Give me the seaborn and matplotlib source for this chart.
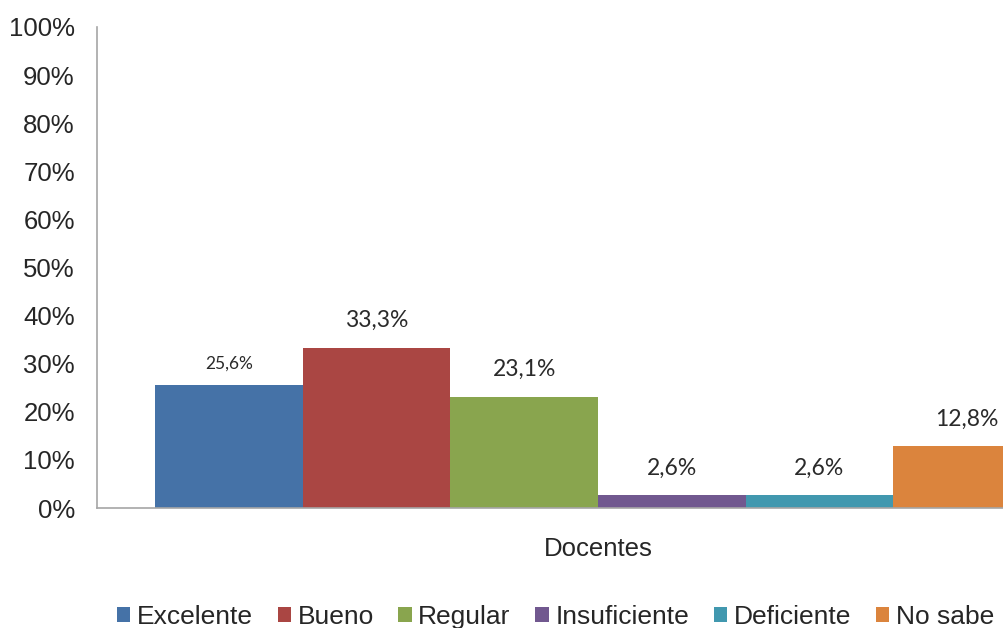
import matplotlib
matplotlib.use("Agg")
import matplotlib.pyplot as plt
import pandas as pd
import seaborn as sns

sns.set_style("white")
plt.rcParams["font.family"] = ["Liberation Sans", "DejaVu Sans"]

grupo = "Docentes"
categorias = ["Excelente", "Bueno", "Regular", "Insuficiente", "Deficiente", "No sabe"]
valores = [25.6, 33.3, 23.1, 2.6, 2.6, 12.8]
colores = ["#4572A7", "#AA4643", "#89A54E", "#71588F", "#4198AF", "#DB843D"]
yticks = list(range(0, 101, 10))

df = pd.DataFrame({"grupo": grupo, "categoria": categorias, "valor": valores})

fig = plt.figure(figsize=(10.04, 6.28), dpi=100)
ax = fig.add_axes([97 / 1004, 120 / 628, 1002 / 1004, 481 / 628])

sns.barplot(data=df, x="grupo", y="valor", hue="categoria", hue_order=categorias,
            palette=colores, saturation=1, width=0.884, gap=0, linewidth=0,
            errorbar=None, ax=ax)

# etiquetas de valor encima de cada barra
for i, cont in enumerate(ax.containers):
    for bar in cont:
        x = bar.get_x() + bar.get_width() / 2
        y = bar.get_height()
        txt = f"{y:.1f}".replace(".", ",") + "%"
        size = 12.5 if i == 0 else 16.5
        off = 15 if i == 0 else 19.5
        ax.annotate(txt, (x, y), xytext=(0, off), textcoords="offset points",
                    ha="center", va="center", fontsize=size, color="#2a2a2a",
                    family=["Lato", "DejaVu Sans"])

ax.set_ylim(0, 100)
ax.set_yticks(yticks)
ax.set_yticklabels([f"{t}%" for t in yticks])
ax.set_xlabel("")
ax.set_ylabel("")
ax.tick_params(axis="y", length=0, pad=16, labelsize=18.5)
ax.tick_params(axis="x", length=0, pad=21, labelsize=18.5)

for s in ["top", "right"]:
    ax.spines[s].set_visible(False)
for s in ["left", "bottom"]:
    ax.spines[s].set_color("#A6A6A6")
    ax.spines[s].set_linewidth(1.2)

handles, labels = ax.get_legend_handles_labels()
ax.get_legend().remove()
fig.legend(handles, labels, loc="center left", bbox_to_anchor=(117 / 1004, 11 / 628),
           ncol=6, frameon=False, fontsize=19, handlelength=0.5, handleheight=0.5,
           handletextpad=0.25, columnspacing=0.94, borderpad=0, borderaxespad=0)

fig.savefig("out.png", dpi=100)
